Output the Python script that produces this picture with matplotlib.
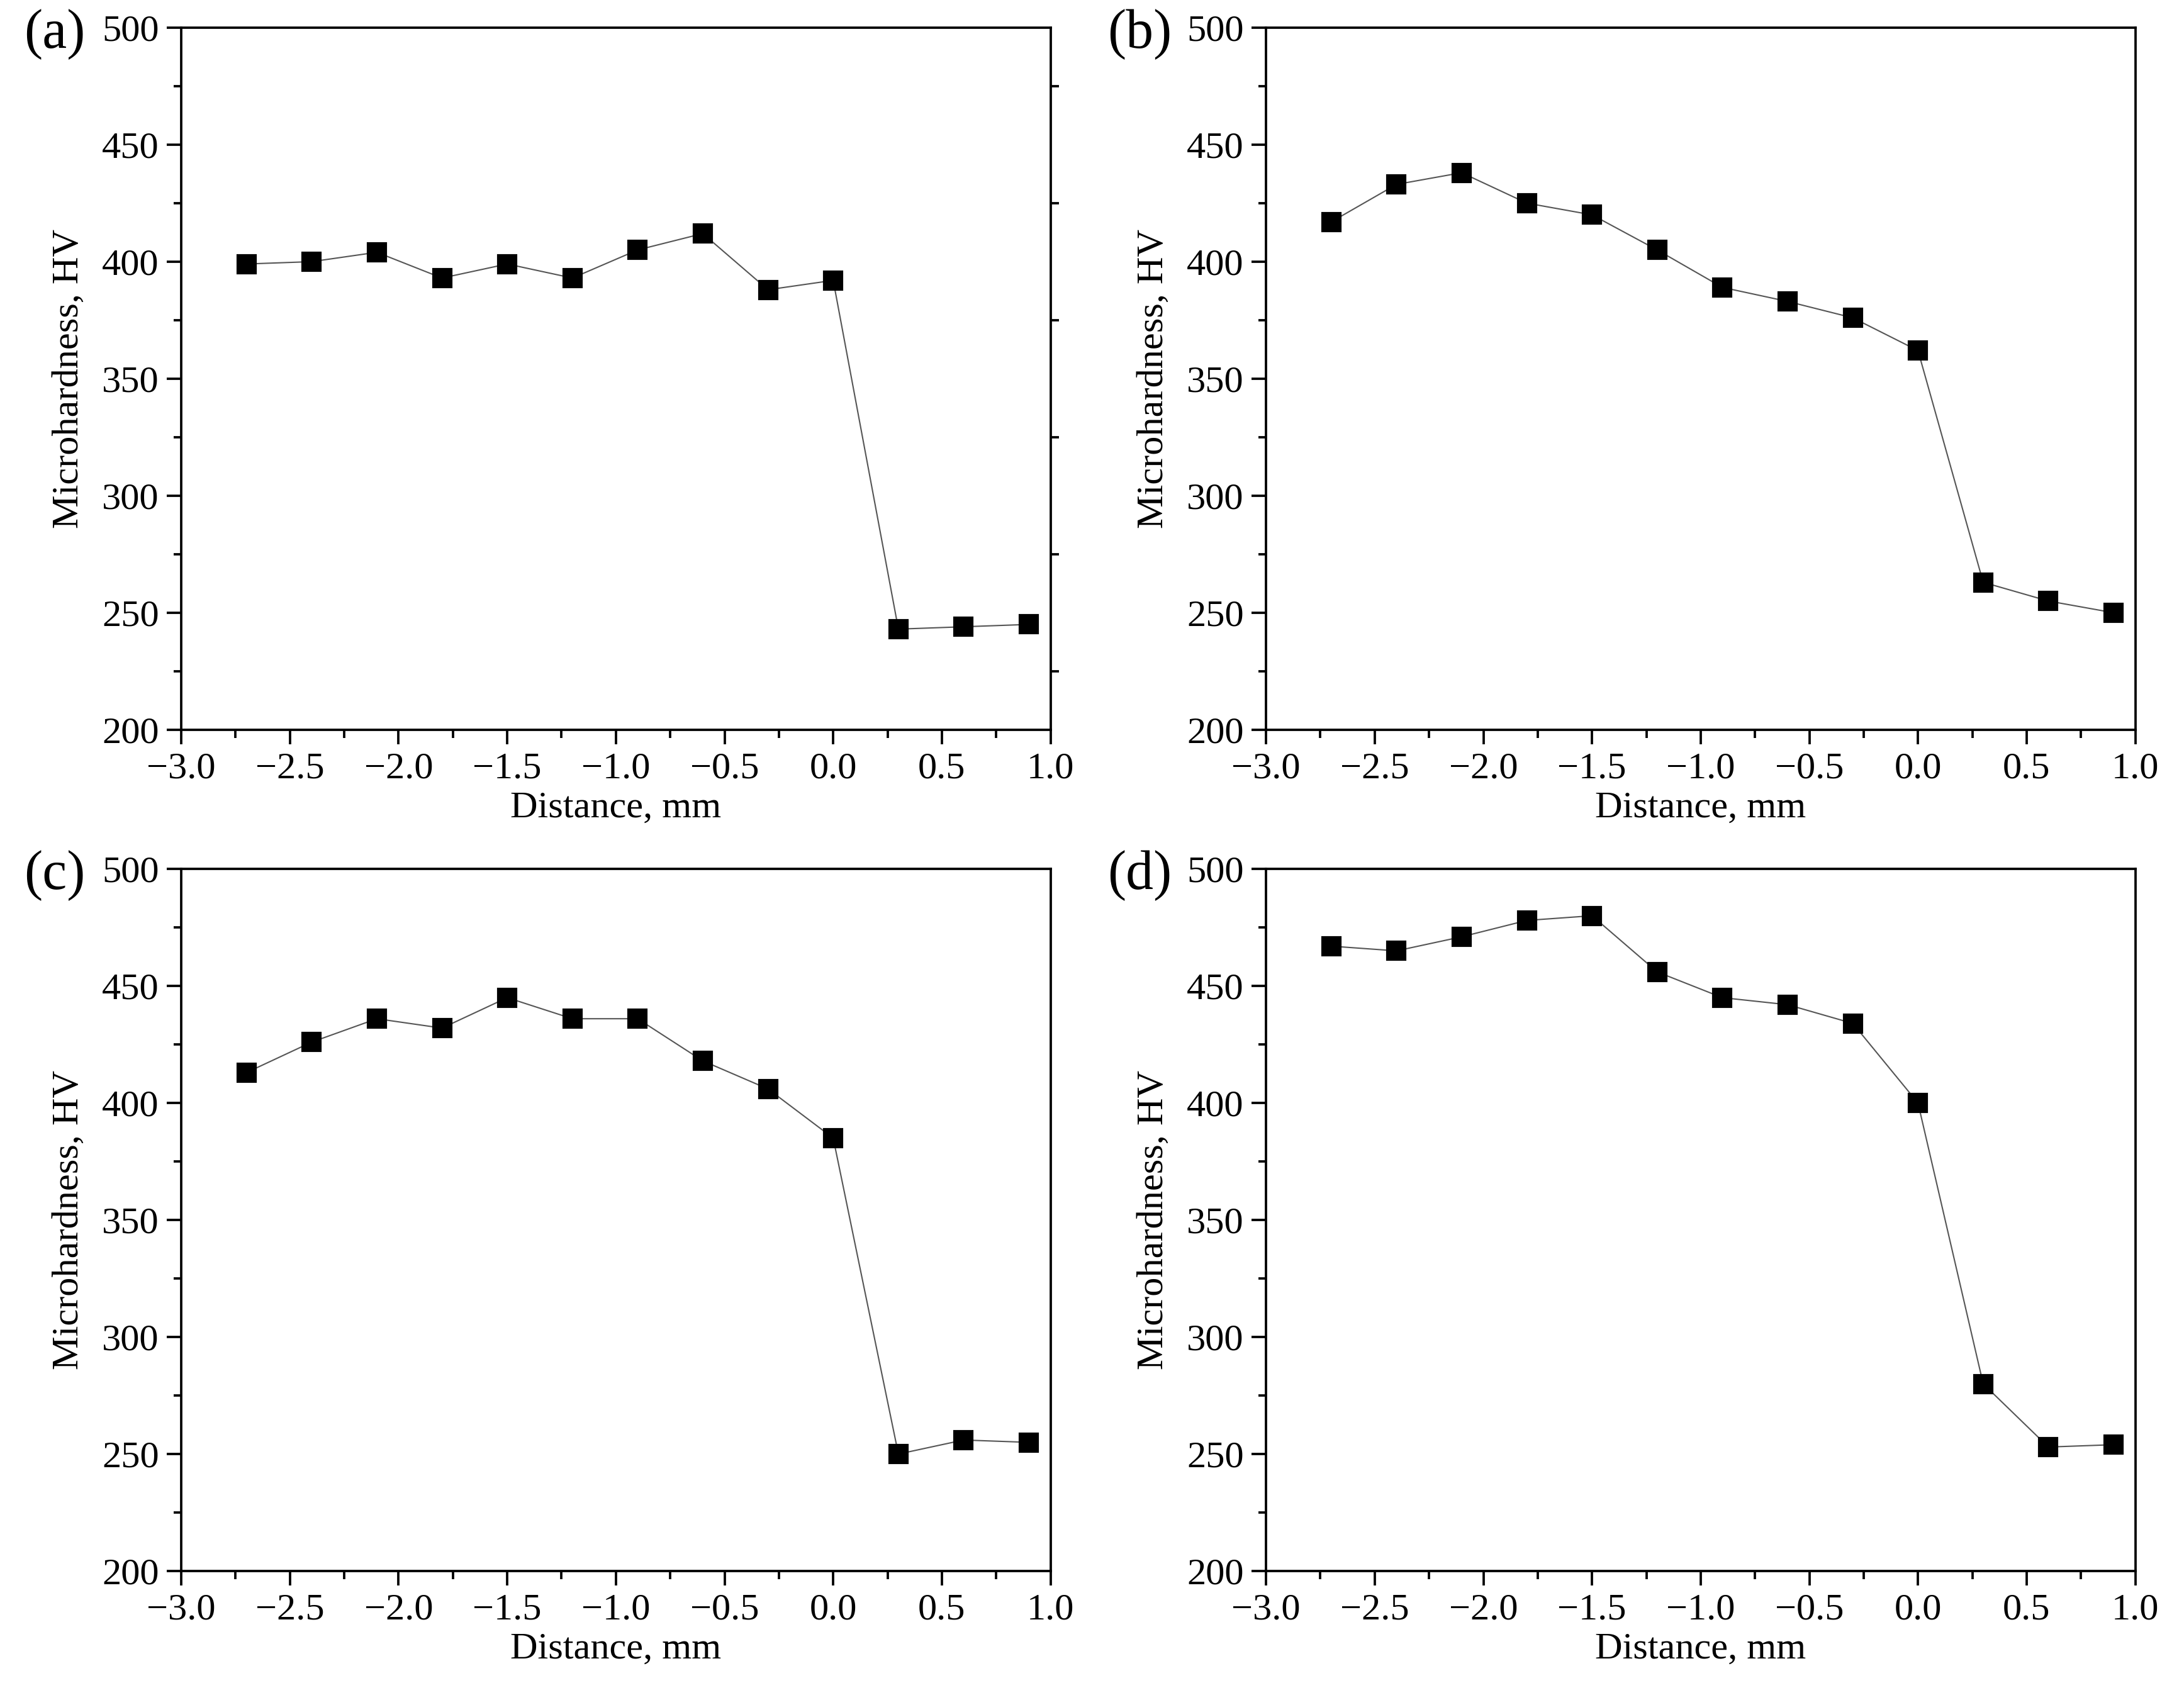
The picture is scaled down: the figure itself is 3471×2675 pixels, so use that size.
import numpy as np
import matplotlib
matplotlib.use("Agg")
import matplotlib.pyplot as plt
from matplotlib.ticker import MultipleLocator, FuncFormatter

plt.rcParams['font.family'] = ['Liberation Serif', 'DejaVu Serif']
plt.rcParams['mathtext.fontset'] = 'stix'

# 数据
distance = [-2.7, -2.4, -2.1, -1.8, -1.5, -1.2, -0.9, -0.6, -0.3, 0.0, 0.3, 0.6, 0.9]
hv_a = [399, 400, 404, 393, 399, 393, 405, 412, 388, 392, 243, 244, 245]
hv_b = [417, 433, 438, 425, 420, 405, 389, 383, 376, 362, 263, 255, 250]
hv_c = [413, 426, 436, 432, 445, 436, 436, 418, 406, 385, 250, 256, 255]
hv_d = [467, 465, 471, 478, 480, 456, 445, 442, 434, 400, 280, 253, 254]
panel_labels = ['(a)', '(b)', '(c)', '(d)']

fig = plt.figure(figsize=(3471 / 300, 2675 / 300), dpi=300)

# 子图位置 (left, bottom, width, height)
positions = [
    [0.083, 0.5664, 0.398, 0.4172],
    [0.5797, 0.5664, 0.398, 0.4172],
    [0.083, 0.0665, 0.398, 0.4172],
    [0.5797, 0.0665, 0.398, 0.4172],
]
series = [hv_a, hv_b, hv_c, hv_d]


def fmt_x(v, pos):
    s = '%.1f' % v
    if s == '-0.0':
        s = '0.0'
    return s.replace('-', '\u2212')


for i, (pos, hv, lab) in enumerate(zip(positions, series, panel_labels)):
    ax = fig.add_axes(pos)
    ax.plot(distance, hv, color='#555555', linewidth=0.5, marker='s', markersize=6.5,
            markerfacecolor='black', markeredgecolor='black', zorder=3)
    ax.set_xlim(-3.0, 1.0)
    ax.set_ylim(200, 500)
    ax.xaxis.set_major_locator(MultipleLocator(0.5))
    ax.xaxis.set_minor_locator(MultipleLocator(0.25))
    ax.yaxis.set_major_locator(MultipleLocator(50))
    ax.yaxis.set_minor_locator(MultipleLocator(25))
    ax.xaxis.set_major_formatter(FuncFormatter(fmt_x))
    ax.tick_params(which='major', direction='out', length=5.5, width=0.9, labelsize=14.5, pad=3)
    ax.tick_params(which='minor', direction='out', length=3, width=0.9)
    if i == 0:
        ax.tick_params(axis='y', which='minor', right=True)
    for sp in ax.spines.values():
        sp.set_linewidth(0.9)
    ax.set_xlabel('Distance, mm', fontsize=14.5, labelpad=2)
    ax.set_ylabel('Microhardness, HV', fontsize=14.5, labelpad=6)
    bb = ax.get_position()
    fig.text(bb.x0 - 0.058, bb.y1 - 0.004, lab, fontsize=21, ha='center', va='center')

fig.savefig('out.png', dpi=300)
